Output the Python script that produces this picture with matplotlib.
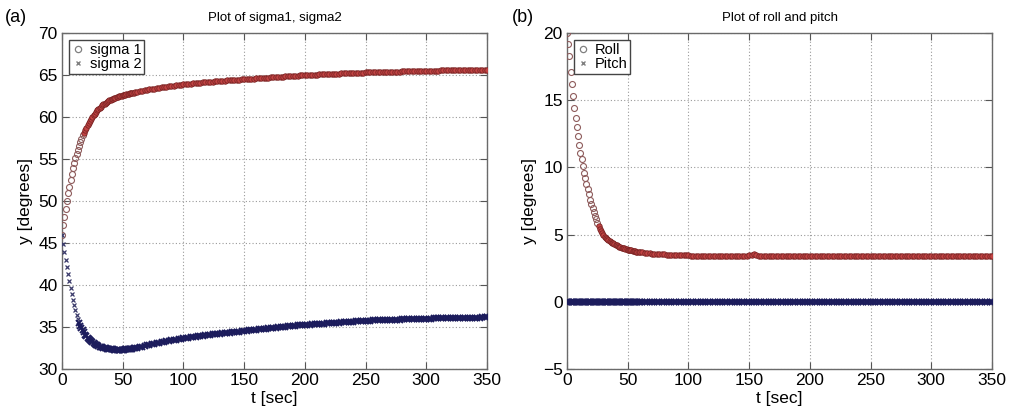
import numpy as np
import matplotlib
matplotlib.use("Agg")
import matplotlib.pyplot as plt
from matplotlib.lines import Line2D

# ---------------- data ----------------
t_early = list(range(0, 61))          # 0..60 s, 1 s step
t_late = list(range(62, 351, 2))      # 62..350 s, 2 s step

sigma1_early = [
    46.0, 47.1, 48.1, 49.1, 50.0, 50.9, 51.7, 52.5, 53.2, 53.9,
    54.5, 55.1, 55.6, 56.1, 56.6, 57.0, 57.4, 57.8, 58.1, 58.4,
    58.7, 59.0, 59.3, 59.5, 59.8, 60.0, 60.2, 60.4, 60.6, 60.8,
    60.95, 61.1, 61.25, 61.4, 61.5, 61.6, 61.7, 61.8, 61.9, 62.0,
    62.05, 62.1, 62.2, 62.25, 62.3, 62.35, 62.4, 62.45, 62.5, 62.55,
    62.6, 62.63, 62.66, 62.7, 62.73, 62.76, 62.8, 62.83, 62.86, 62.9,
    62.93,
]
sigma1_late = [
    62.99, 63.05, 63.11, 63.17, 63.23, 63.28, 63.33, 63.38, 63.43, 63.48,
    63.52, 63.56, 63.60, 63.64, 63.68, 63.72, 63.76, 63.80, 63.84, 63.88,
    63.91, 63.94, 63.97, 64.00, 64.03, 64.06, 64.09, 64.12, 64.15, 64.17,
    64.19, 64.21, 64.24, 64.26, 64.28, 64.30, 64.33, 64.35, 64.37, 64.39,
    64.41, 64.43, 64.45, 64.47, 64.49, 64.51, 64.53, 64.55, 64.57, 64.59,
    64.61, 64.63, 64.65, 64.67, 64.69, 64.71, 64.73, 64.75, 64.77, 64.79,
    64.81, 64.83, 64.85, 64.87, 64.89, 64.91, 64.93, 64.95, 64.97, 64.99,
    65.00, 65.02, 65.03, 65.04, 65.05, 65.07, 65.08, 65.09, 65.10, 65.12,
    65.13, 65.14, 65.15, 65.17, 65.18, 65.19, 65.20, 65.22, 65.23, 65.24,
    65.25, 65.26, 65.28, 65.29, 65.30, 65.31, 65.32, 65.32, 65.33, 65.34,
    65.35, 65.36, 65.36, 65.37, 65.38, 65.39, 65.40, 65.40, 65.41, 65.42,
    65.43, 65.44, 65.44, 65.45, 65.46, 65.47, 65.48, 65.48, 65.49, 65.50,
    65.51, 65.51, 65.52, 65.53, 65.53, 65.54, 65.55, 65.55, 65.56, 65.56,
    65.57, 65.58, 65.58, 65.59, 65.59, 65.60, 65.61, 65.61, 65.62, 65.62,
    65.63, 65.63, 65.64, 65.64, 65.65,
]

sigma2_early = [
    45.9, 44.9, 43.9, 42.95, 42.1, 41.3, 40.5, 39.7, 38.95, 38.25,
    37.6, 37.0, 36.45, 35.95, 35.5, 35.1, 34.85, 34.6, 34.35, 34.1,
    33.9, 33.7, 33.55, 33.42, 33.3, 33.18, 33.07, 32.97, 32.88, 32.8,
    32.73, 32.67, 32.62, 32.57, 32.53, 32.49, 32.46, 32.43, 32.4, 32.38,
    32.36, 32.34, 32.33, 32.32, 32.31, 32.3, 32.3, 32.3, 32.3, 32.3,
    32.31, 32.32, 32.33, 32.34, 32.36, 32.38, 32.4, 32.42, 32.44, 32.46,
    32.49,
]
sigma2_late = [
    32.54, 32.60, 32.66, 32.73, 32.80, 32.87, 32.94, 33.00, 33.06, 33.12,
    33.18, 33.24, 33.30, 33.35, 33.40, 33.45, 33.50, 33.55, 33.60, 33.65,
    33.69, 33.73, 33.77, 33.81, 33.85, 33.89, 33.93, 33.96, 34.00, 34.04,
    34.07, 34.11, 34.14, 34.18, 34.21, 34.24, 34.28, 34.31, 34.34, 34.37,
    34.40, 34.43, 34.46, 34.49, 34.52, 34.56, 34.59, 34.63, 34.66, 34.69,
    34.72, 34.75, 34.78, 34.81, 34.84, 34.87, 34.90, 34.93, 34.96, 34.99,
    35.02, 35.04, 35.07, 35.10, 35.12, 35.15, 35.18, 35.20, 35.23, 35.25,
    35.27, 35.29, 35.31, 35.33, 35.35, 35.37, 35.39, 35.41, 35.43, 35.45,
    35.47, 35.49, 35.51, 35.53, 35.55, 35.57, 35.59, 35.61, 35.63, 35.65,
    35.67, 35.69, 35.71, 35.73, 35.75, 35.76, 35.77, 35.78, 35.79, 35.80,
    35.81, 35.82, 35.83, 35.84, 35.85, 35.86, 35.87, 35.88, 35.89, 35.90,
    35.91, 35.92, 35.93, 35.94, 35.95, 35.96, 35.97, 35.98, 35.99, 36.00,
    36.01, 36.01, 36.02, 36.03, 36.03, 36.04, 36.05, 36.05, 36.06, 36.06,
    36.07, 36.08, 36.08, 36.09, 36.09, 36.10, 36.11, 36.11, 36.12, 36.12,
    36.13, 36.13, 36.14, 36.14, 36.15,
]

roll_early = [
    20.0, 19.2, 18.3, 17.1, 16.2, 15.3, 14.4, 13.7, 13.0, 12.3,
    11.7, 11.1, 10.6, 10.1, 9.6, 9.2, 8.8, 8.4, 8.0, 7.6,
    7.3, 7.0, 6.7, 6.4, 6.15, 5.9, 5.65, 5.45, 5.25, 5.1,
    4.95, 4.85, 4.76, 4.68, 4.6, 4.53, 4.46, 4.4, 4.34, 4.29,
    4.24, 4.19, 4.15, 4.11, 4.07, 4.04, 4.01, 3.98, 3.95, 3.92,
    3.89, 3.86, 3.84, 3.82, 3.80, 3.78, 3.76, 3.74, 3.73, 3.71,
    3.70,
]
roll_late = [
    3.67, 3.65, 3.63, 3.61, 3.59, 3.57, 3.56, 3.54, 3.53, 3.52,
    3.51, 3.50, 3.49, 3.48, 3.47, 3.47, 3.46, 3.46, 3.45, 3.45,
    3.44, 3.44, 3.44, 3.44, 3.44, 3.44, 3.44, 3.44, 3.44, 3.44,
    3.44, 3.44, 3.44, 3.44, 3.44, 3.44, 3.44, 3.44, 3.44, 3.44,
    3.44, 3.44, 3.44, 3.44, 3.45, 3.50, 3.55, 3.47, 3.44, 3.44,
    3.44, 3.44, 3.44, 3.44, 3.44, 3.44, 3.44, 3.44, 3.44, 3.44,
    3.44, 3.44, 3.44, 3.44, 3.44, 3.44, 3.44, 3.44, 3.44, 3.44,
    3.44, 3.44, 3.44, 3.44, 3.44, 3.44, 3.44, 3.44, 3.44, 3.44,
    3.44, 3.44, 3.44, 3.44, 3.44, 3.44, 3.44, 3.44, 3.44, 3.44,
    3.44, 3.44, 3.44, 3.44, 3.44, 3.44, 3.44, 3.44, 3.44, 3.44,
    3.44, 3.44, 3.44, 3.44, 3.44, 3.44, 3.44, 3.44, 3.44, 3.44,
    3.44, 3.44, 3.44, 3.44, 3.44, 3.44, 3.44, 3.44, 3.44, 3.44,
    3.44, 3.44, 3.44, 3.44, 3.44, 3.44, 3.44, 3.44, 3.44, 3.44,
    3.44, 3.44, 3.44, 3.44, 3.44, 3.44, 3.44, 3.44, 3.44, 3.44,
    3.44, 3.44, 3.44, 3.44, 3.44,
]

pitch_early = [0.0] * 61
pitch_late = [0.0] * 145

x_ticks = [0, 50, 100, 150, 200, 250, 300, 350]
y_ticks_a = [30, 35, 40, 45, 50, 55, 60, 65, 70]
y_ticks_b = [-5, 0, 5, 10, 15, 20]

t = np.array(t_early + t_late)
sigma1 = np.array(sigma1_early + sigma1_late)
sigma2 = np.array(sigma2_early + sigma2_late)
roll = np.array(roll_early + roll_late)
pitch = np.array(pitch_early + pitch_late)

# ---------------- style ----------------
plt.rcParams['font.family'] = ['Liberation Sans', 'DejaVu Sans']
plt.rcParams['axes.unicode_minus'] = True

fig = plt.figure(figsize=(10.09, 4.16), dpi=100)
W, H = 1009, 416
ax1 = fig.add_axes([62 / W, 1 - 369 / H, (487 - 62) / W, (369 - 33) / H])
ax2 = fig.add_axes([567 / W, 1 - 369 / H, (992 - 567) / W, (369 - 33) / H])

hollow_edge = '#8e5c5c'
band_face = '#c24444'
band_edge = '#7a2424'
navy = '#1c1c5c'


def style(ax, yt, ylim):
    ax.set_xlim(0, 350)
    ax.set_ylim(*ylim)
    ax.set_xticks(x_ticks)
    ax.set_yticks(yt)
    ax.tick_params(direction='in', top=True, right=True, length=5,
                   width=0.8, labelsize=12.5, colors='#555555',
                   labelcolor='black', pad=3)
    ax.grid(True, linestyle=(0, (1, 2)), color='#9a9a9a', linewidth=0.8)
    for s in ax.spines.values():
        s.set_color('#6a6a6a')
        s.set_linewidth(1.0)
    ax.set_xlabel('t [sec]', fontsize=12.5, labelpad=2)
    ax.set_ylabel('y [degrees]', fontsize=12.5, labelpad=4)


def circles(ax, tt, yy, t_dense):
    m = tt < t_dense
    ax.plot(tt[m], yy[m], linestyle='none', marker='o', markersize=4.3,
            markerfacecolor='none', markeredgecolor=hollow_edge,
            markeredgewidth=0.8, zorder=3)
    ax.plot(tt[~m], yy[~m], linestyle='none', marker='o', markersize=3.9,
            markerfacecolor=band_face, markeredgecolor=band_edge,
            markeredgewidth=0.6, zorder=3)


def crosses(ax, tt, yy, t_dense):
    m = tt < t_dense
    ax.plot(tt[m], yy[m], linestyle='none', marker='x', markersize=3.2,
            markeredgecolor='#3a3a6a', markeredgewidth=0.9, zorder=3)
    ax.plot(tt[~m], yy[~m], linestyle='none', marker='x', markersize=3.8,
            markeredgecolor=navy, markeredgewidth=1.4, zorder=3)


# panel (a)
circles(ax1, t, sigma1, 18)
crosses(ax1, t, sigma2, 14)
style(ax1, y_ticks_a, (30, 70))
ax1.set_title('Plot of sigma1, sigma2', fontsize=9.5, pad=9)

# panel (b)
circles(ax2, t, roll, 26)
crosses(ax2, t, pitch, 0)
style(ax2, y_ticks_b, (-5, 20))
ax2.set_title('Plot of roll and pitch', fontsize=9.5, pad=9)

# legends with grey marker handles
for ax, labels in ((ax1, ['sigma 1', 'sigma 2']), (ax2, ['Roll', 'Pitch'])):
    handles = [
        Line2D([], [], linestyle='none', marker='o', markersize=4.5,
               markerfacecolor='none', markeredgecolor='#808080',
               markeredgewidth=0.9),
        Line2D([], [], linestyle='none', marker='x', markersize=3.5,
               markeredgecolor='#808080', markeredgewidth=1.0),
    ]
    leg = ax.legend(handles, labels, loc='upper left', fontsize=10.5,
                    frameon=True, fancybox=False, handlelength=0.8,
                    handletextpad=0.4, borderpad=0.2, labelspacing=0.0,
                    borderaxespad=0.5, framealpha=1.0)
    leg.get_frame().set_edgecolor('#444444')
    leg.get_frame().set_linewidth(1.0)

fig.text(5 / W, 1 - 18 / H, '(a)', fontsize=13, va='center', ha='left')
fig.text(512 / W, 1 - 18 / H, '(b)', fontsize=13, va='center', ha='left')

fig.savefig('out.png', dpi=100)
